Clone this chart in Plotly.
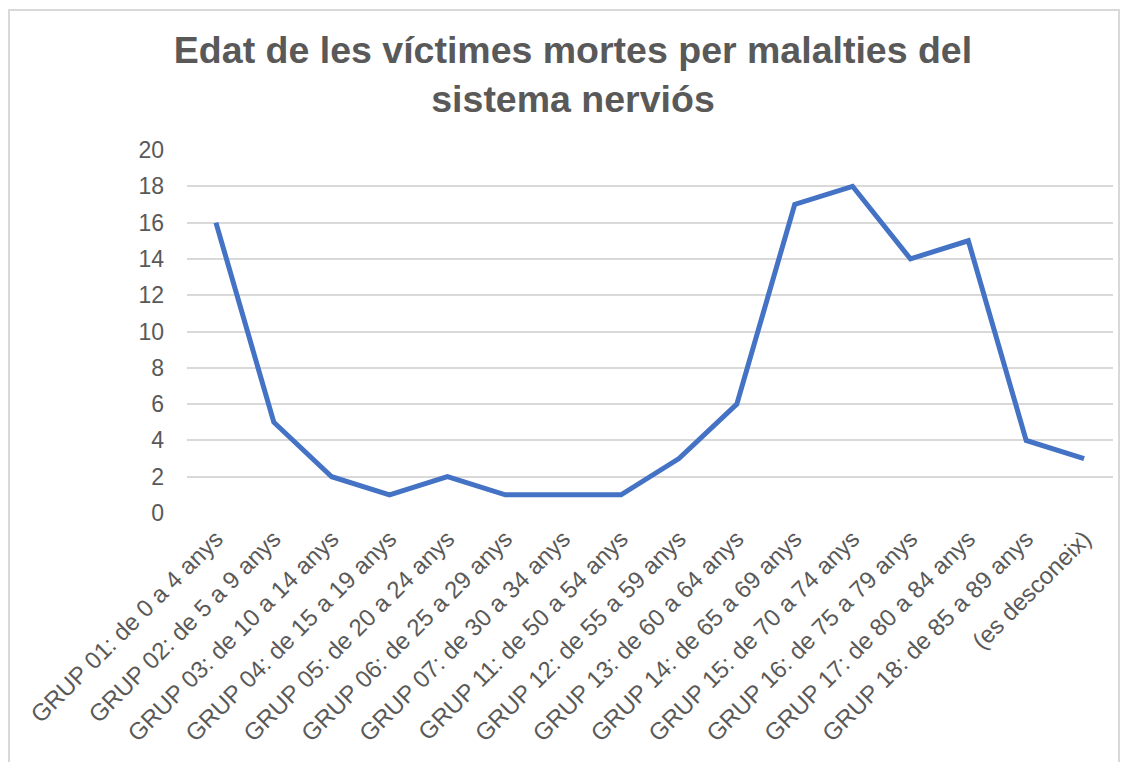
import plotly.graph_objects as go

categories = [
    "GRUP 01: de 0 a 4 anys",
    "GRUP 02: de 5 a 9 anys",
    "GRUP 03: de 10 a 14 anys",
    "GRUP 04: de 15 a 19 anys",
    "GRUP 05: de 20 a 24 anys",
    "GRUP 06: de 25 a 29 anys",
    "GRUP 07: de 30 a 34 anys",
    "GRUP 11: de 50 a 54 anys",
    "GRUP 12: de 55 a 59 anys",
    "GRUP 13: de 60 a 64 anys",
    "GRUP 14: de 65 a 69 anys",
    "GRUP 15: de 70 a 74 anys",
    "GRUP 16: de 75 a 79 anys",
    "GRUP 17: de 80 a 84 anys",
    "GRUP 18: de 85 a 89 anys",
    "(es desconeix)",
]
victims = [16, 5, 2, 1, 2, 1, 1, 1, 3, 6, 17, 18, 14, 15, 4, 3]
y_ticks = list(range(0, 21, 2))

title_text = "Edat de les víctimes mortes per malalties del<br>sistema nerviós"
font_family = "Liberation Sans, Arial, sans-serif"
grey = "#595959"

W, H = 1121, 754
L, R, T, B = 179, 16, 142, 249
pw, ph = W - L - R, H - T - B

fig = go.Figure()
fig.add_trace(go.Scatter(
    x=categories, y=victims, mode="lines",
    line=dict(color="#4472C4", width=5),
    hoverinfo="x+y",
))

fig.update_layout(
    width=W, height=H,
    paper_bgcolor="white", plot_bgcolor="white",
    margin=dict(l=L, r=R, t=T, b=B, autoexpand=False),
    showlegend=False,
    font=dict(family=font_family, color=grey),
    title=dict(
        text="<b>" + title_text + "</b>",
        font=dict(size=37.5, color=grey, family=font_family),
        x=565 / W, xanchor="center", xref="container",
        y=1 - 55 / H, yanchor="top", yref="container",
    ),
)

fig.update_xaxes(
    type="category", tickangle=-45, range=[-0.5, len(categories) - 0.5],
    showgrid=False, showline=False, zeroline=False, ticks="",
    tickfont=dict(size=24, color=grey), ticklabelstandoff=6, automargin=False,
)
fig.update_yaxes(
    range=[0, 20], tickvals=y_ticks, showgrid=True, gridcolor="#D9D9D9",
    gridwidth=1.5, zeroline=False, showline=False, ticks="",
    tickfont=dict(size=23, color=grey), ticklabelstandoff=22, automargin=False,
)

# chart border
fig.add_shape(
    type="rect", xref="paper", yref="paper",
    x0=(1 - L) / pw, x1=(1111 - L) / pw,
    y0=(H - B - H - 5) / ph, y1=(H - B - 2) / ph,
    line=dict(color="#D9D9D9", width=2), fillcolor="rgba(0,0,0,0)", layer="below",
)

fig.write_html("out.html")
